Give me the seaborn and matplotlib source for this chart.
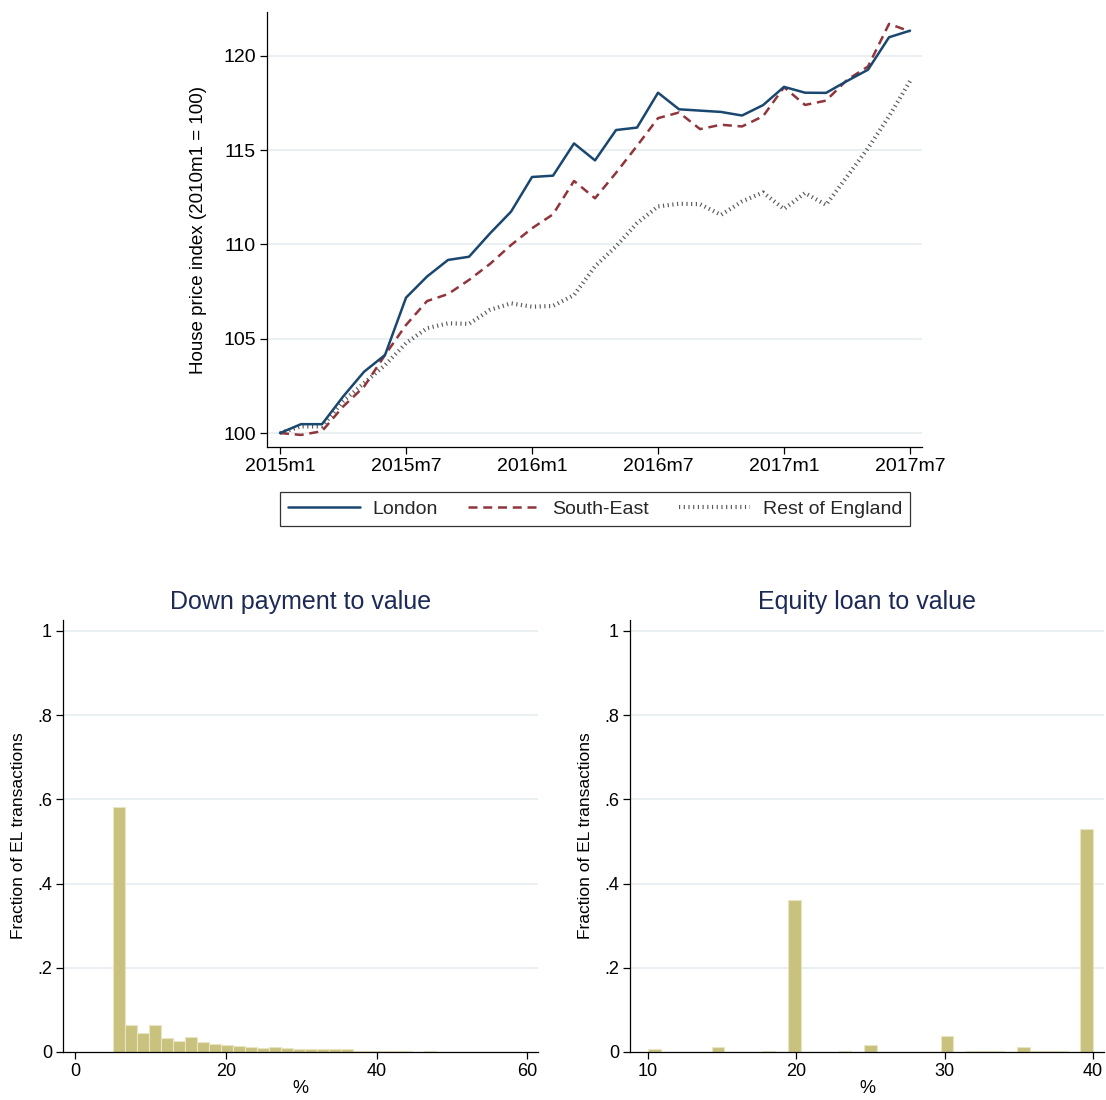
import numpy as np
import pandas as pd
import matplotlib
matplotlib.use("Agg")
import matplotlib.pyplot as plt
import seaborn as sns

# ---------------- data ----------------
month_index = list(range(31))  # 2015m1 ... 2017m7
month_tick_pos = [0, 6, 12, 18, 24, 30]
month_tick_labels = ["2015m1", "2015m7", "2016m1", "2016m7", "2017m1", "2017m7"]

london = [100.0, 100.47, 100.47, 101.93, 103.25, 104.14, 107.18, 108.3, 109.18, 109.35,
          110.59, 111.74, 113.58, 113.65, 115.36, 114.46, 116.07, 116.2, 118.05, 117.17,
          117.1, 117.03, 116.84, 117.39, 118.36, 118.05, 118.04, 118.67, 119.27, 120.99, 121.34]
south_east = [100.0, 99.9, 100.1, 101.4, 102.46, 104.14, 105.73, 107.0, 107.37, 108.12,
              108.97, 109.97, 110.86, 111.6, 113.37, 112.45, 113.8, 115.23, 116.7, 117.0,
              116.12, 116.35, 116.26, 116.8, 118.34, 117.4, 117.63, 118.73, 119.44, 121.7, 121.3]
rest_england = [100.0, 100.35, 100.35, 101.68, 102.65, 103.6, 104.77, 105.56, 105.82, 105.79,
                106.53, 106.88, 106.7, 106.74, 107.32, 108.84, 109.9, 111.13, 112.02, 112.16,
                112.14, 111.57, 112.28, 112.76, 111.88, 112.73, 112.1, 113.6, 115.11, 116.8, 118.66]
series_names = ["London", "South-East", "Rest of England"]

price_ticks = [100, 105, 110, 115, 120]

# Down payment to value histogram (35 bins)
dpv_bin_start = 5.0
dpv_bin_width = 1.59
dpv_fraction = [0.583, 0.064, 0.044, 0.064, 0.033, 0.026, 0.035, 0.024, 0.019, 0.017,
                0.014, 0.012, 0.010, 0.011, 0.009, 0.008, 0.007, 0.006, 0.007, 0.008,
                0.002, 0.003, 0.002, 0.003, 0.002, 0.001, 0.002, 0.001, 0.001, 0.001,
                0.0005, 0.0005, 0.0005, 0.0005, 0.0005]
dpv_xticks = [0, 20, 40, 60]

# Equity loan to value histogram (35 bins)
elv_bin_start = 10.0
elv_bin_width = 30.0 / 35
elv_fraction = [0.007, 0.0, 0.001, 0.001, 0.001, 0.011, 0.001, 0.0, 0.001, 0.002,
                0.0, 0.361, 0.0, 0.0, 0.001, 0.002, 0.0, 0.016, 0.0, 0.001,
                0.001, 0.0, 0.001, 0.038, 0.0, 0.002, 0.002, 0.003, 0.0, 0.013,
                0.002, 0.002, 0.003, 0.0, 0.529]
elv_xticks = [10, 20, 30, 40]

frac_ticks = [0, 0.2, 0.4, 0.6, 0.8, 1.0]
frac_tick_labels = ["0", ".2", ".4", ".6", ".8", "1"]

# ---------------- style ----------------
sns.set_theme(style="white")
plt.rcParams["font.family"] = ["Liberation Sans", "DejaVu Sans"]
plt.rcParams["axes.linewidth"] = 0.9

NAVY = "#1a476f"
MAROON = "#90353b"
GRAY = "#5a5a5a"
GRID = "#e6eef0"
KHAKI = "#c9c27f"
KHAKI_EDGE = "#e9e5c2"
TITLE = "#1c2a55"

fig = plt.figure(figsize=(11.06, 11.0), dpi=100)
W, H = 1106.0, 1100.0


def add_ax(x0, y0, x1, y1):
    return fig.add_axes([x0 / W, 1 - y1 / H, (x1 - x0) / W, (y1 - y0) / H])


def style_axes(ax, lsize):
    for s in ["top", "right"]:
        ax.spines[s].set_visible(False)
    for s in ["left", "bottom"]:
        ax.spines[s].set_color("black")
        ax.spines[s].set_linewidth(0.9)
    ax.tick_params(axis="both", direction="out", length=5, width=0.9, color="black",
                   labelsize=lsize, labelcolor="black", pad=3,
                   left=True, bottom=True)
    ax.grid(False)


# ---------------- top line chart ----------------
ax = add_ax(267, 12, 922, 447)
df = pd.DataFrame({"month": month_index, "London": london,
                   "South-East": south_east, "Rest of England": rest_england})

for y in price_ticks:
    ax.axhline(y, color=GRID, lw=1.2, zorder=0)

sns.lineplot(data=df, x="month", y="London", ax=ax, color=NAVY, lw=1.8,
             label="London", legend=False, zorder=3)
sns.lineplot(data=df, x="month", y="South-East", ax=ax, color=MAROON, lw=1.8,
             linestyle=(0, (3.6, 2.3)), dash_capstyle="butt",
             label="South-East", legend=False, zorder=2)
sns.lineplot(data=df, x="month", y="Rest of England", ax=ax, color=GRAY, lw=3.0,
             linestyle=(0, (0.28, 0.85)), dash_capstyle="butt",
             label="Rest of England", legend=False, zorder=1)

ax.set_xlim(-0.62, 30.57)
ax.set_ylim(99.26, 122.33)
ax.set_xticks(month_tick_pos)
ax.set_xticklabels(month_tick_labels)
ax.set_yticks(price_ticks)
ax.set_yticklabels([str(t) for t in price_ticks])
ax.set_xlabel("")
ax.set_ylabel("House price index (2010m1 = 100)", fontsize=13.5, color="black", labelpad=12)
style_axes(ax, 14)

handles = ax.get_lines()
handles = [h for h in handles if h.get_label() in series_names]
leg = fig.legend(handles=handles, labels=series_names, loc="center",
                 bbox_to_anchor=(595 / W, 1 - 509 / H), ncol=3, fontsize=14,
                 frameon=True, fancybox=False, edgecolor="black",
                 handlelength=3.7, handletextpad=0.62, columnspacing=1.55,
                 borderpad=0.42, borderaxespad=0)
leg.get_frame().set_linewidth(0.9)

# ---------------- histograms ----------------
def draw_hist(ax, start, width, fracs, xlim, xticks, title):
    n = len(fracs)
    edges = start + width * np.arange(n + 1)
    centers = (edges[:-1] + edges[1:]) / 2
    hdf = pd.DataFrame({"value": centers, "fraction": fracs})
    for y in frac_ticks[1:]:
        ax.axhline(y, color=GRID, lw=1.2, zorder=0)
    sns.histplot(data=hdf, x="value", weights="fraction", bins=edges.tolist(), ax=ax,
                 stat="count", color=KHAKI, edgecolor=KHAKI_EDGE, linewidth=0.8,
                 alpha=1.0, zorder=2)
    ax.set_xlim(*xlim)
    ax.set_ylim(0, 1.026)
    ax.set_xticks(xticks)
    ax.set_xticklabels([str(t) for t in xticks])
    ax.set_yticks(frac_ticks)
    ax.set_yticklabels(frac_tick_labels)
    ax.set_xlabel("%", fontsize=13, color="black", labelpad=0)
    ax.set_ylabel("Fraction of EL transactions", fontsize=12.5, color="black", labelpad=8)
    ax.set_title(title, fontsize=18, color=TITLE, pad=8)
    style_axes(ax, 13)


ax_l = add_ax(63, 620, 538, 1052)
draw_hist(ax_l, dpv_bin_start, dpv_bin_width, dpv_fraction, (-1.6, 61.4), dpv_xticks,
          "Down payment to value")

ax_r = add_ax(630, 620, 1104, 1052)
draw_hist(ax_r, elv_bin_start, elv_bin_width, elv_fraction, (8.79, 40.73), elv_xticks,
          "Equity loan to value")

fig.savefig("out.png", dpi=100)
